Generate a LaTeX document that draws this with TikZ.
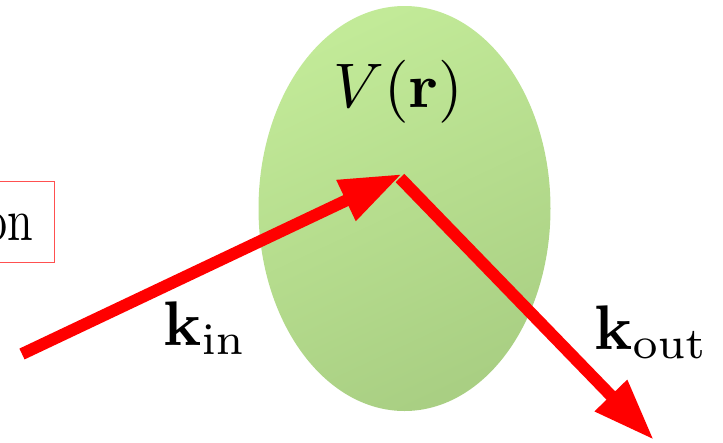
\documentclass[tikz,border=0pt]{standalone}
\usetikzlibrary{shapes.geometric,arrows.meta}
\definecolor{blobtop}{RGB}{194,234,152}
\definecolor{blobbot}{RGB}{169,207,131}
\definecolor{boxred}{RGB}{255,80,80}
\tikzset{
  bigfont/.style={font=\fontsize{10}{12}\selectfont, scale=6.3},
  wave/.style={draw=red, line width=12pt,
    -{Triangle[length=62pt,width=42pt]}},
}
\begin{document}
\begin{tikzpicture}[x=1pt,y=-1pt]
\useasboundingbox (0,0) rectangle (723,442);
\clip (0,0) rectangle (723,442);
\node[ellipse, minimum width=292pt, minimum height=405pt, inner sep=0pt,
      top color=blobtop, bottom color=blobbot, shading angle=25] (pot) at (404.5,208.5) {};
\node[bigfont, anchor=base] (vlab) at (398.5,107) {$V(\mathbf{r})$};
\node[font=\fontsize{10}{12}\selectfont, xscale=4.6, yscale=6.0, draw=boxred, line width=1pt,
      outer sep=0pt, anchor=base east, inner xsep=4.67pt,
      inner ysep=2.73pt, text depth=1.1pt] (box) at (54.5,240) {electron};
\coordinate (start) at (22,354);
\coordinate (hit) at (402,174);
\coordinate (out0) at (400,178);
\coordinate (end) at (654,440);
\draw[wave] (start) -- (hit);
\draw[wave] (out0) -- (end);
\node[bigfont, anchor=base west, inner sep=0pt] (kin) at (162,345) {$\mathbf{k}_{\mathrm{in}}$};
\node[bigfont, anchor=base west, inner sep=0pt] (kout) at (593,349) {$\mathbf{k}_{\mathrm{out}}$};
\end{tikzpicture}
\end{document}
